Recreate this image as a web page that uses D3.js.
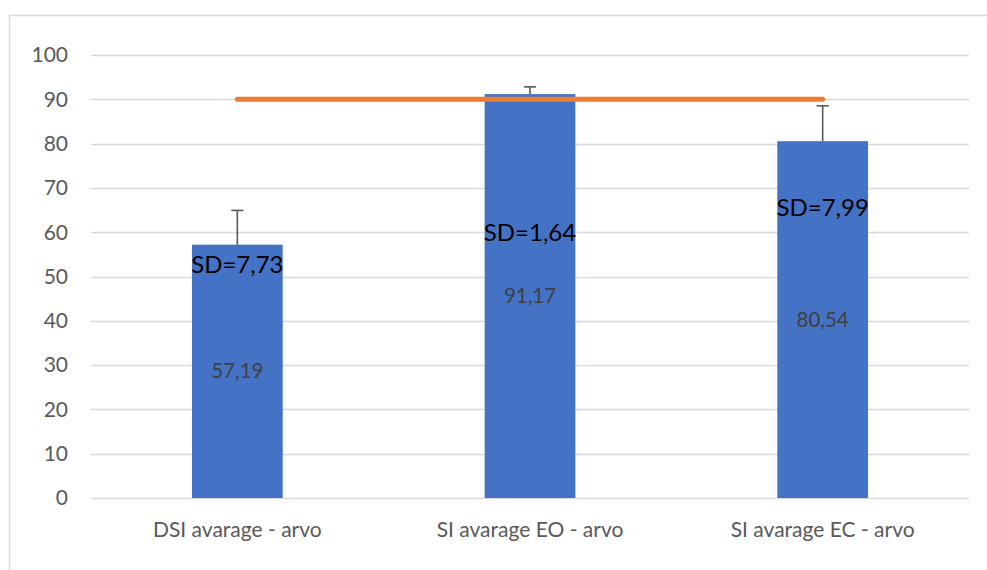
<!DOCTYPE html>
<html>
<head>
<meta charset="utf-8">
<script src="https://cdn.jsdelivr.net/npm/d3@7"></script>
<style>
  body { margin: 0; background: #fff; }
  svg { display: block; font-family: Lato, "Open Sans", sans-serif; }
</style>
</head>
<body>
<svg id="chart" width="987" height="570"></svg>
<script>
// data
const categories = ["DSI avarage - arvo", "SI avarage EO - arvo", "SI avarage EC - arvo"];
const means = [57.19, 91.17, 80.54];
const sds = [7.73, 1.64, 7.99];
const sdLabels = ["SD=7,73", "SD=1,64", "SD=7,99"];
const sdLabelAt = [52.6, 59.8, 65.5];   // where the SD text boxes sit, in axis units
const targetLine = [90, 90, 90];
const yTicks = [0, 10, 20, 30, 40, 50, 60, 70, 80, 90, 100];

const fmt = v => v.toFixed(2).replace(".", ",");

const svg = d3.select("#chart");

// outer chart frame (runs off the right and bottom of the picture)
svg.append("rect")
  .attr("x", 9.5).attr("y", 15.5)
  .attr("width", 1000).attr("height", 600)
  .attr("fill", "none")
  .attr("stroke", "#d9d9d9")
  .attr("stroke-width", 1.5);

const x = d3.scaleBand()
  .domain(categories)
  .range([91, 969])
  .paddingInner(0.69)
  .paddingOuter(0.345);

const y = d3.scaleLinear()
  .domain([0, 100])
  .range([498, 55]);

// gridlines
svg.append("g")
  .selectAll("line")
  .data(yTicks)
  .join("line")
  .attr("x1", 91).attr("x2", 969)
  .attr("y1", d => Math.round(y(d)) + 0.5)
  .attr("y2", d => Math.round(y(d)) + 0.5)
  .attr("stroke", "#d9d9d9")
  .attr("stroke-width", 1.3);

// y axis labels
svg.append("g")
  .selectAll("text")
  .data(yTicks)
  .join("text")
  .attr("x", 68)
  .attr("y", d => y(d))
  .attr("dy", "0.35em")
  .attr("text-anchor", "end")
  .attr("fill", "#595959")
  .style("font-size", "21px")
  .text(d => d);

// bars
svg.append("g")
  .selectAll("rect")
  .data(means)
  .join("rect")
  .attr("x", (d, i) => x(categories[i]))
  .attr("y", d => y(d))
  .attr("width", x.bandwidth())
  .attr("height", d => y(0) - y(d))
  .attr("fill", "#4472c4");

// error bars (plus side only)
const err = svg.append("g")
  .attr("stroke", "#595959")
  .attr("stroke-width", 1.6);
means.forEach((m, i) => {
  const cx = x(categories[i]) + x.bandwidth() / 2;
  err.append("line")
    .attr("x1", cx).attr("x2", cx)
    .attr("y1", y(m)).attr("y2", y(m + sds[i]));
  err.append("line")
    .attr("x1", cx - 6).attr("x2", cx + 6)
    .attr("y1", y(m + sds[i])).attr("y2", y(m + sds[i]));
});

// orange target line
const line = d3.line()
  .x((d, i) => x(categories[i]) + x.bandwidth() / 2)
  .y(d => y(d));
svg.append("path")
  .datum(targetLine)
  .attr("d", line)
  .attr("fill", "none")
  .attr("stroke", "#ed7d31")
  .attr("stroke-width", 5)
  .attr("stroke-linecap", "round");

// value labels, centred in the bars
svg.append("g")
  .selectAll("text")
  .data(means)
  .join("text")
  .attr("x", (d, i) => x(categories[i]) + x.bandwidth() / 2)
  .attr("y", d => y(d / 2))
  .attr("dy", "0.35em")
  .attr("text-anchor", "middle")
  .attr("fill", "#404040")
  .style("font-size", "20.5px")
  .text(d => fmt(d));

// SD text boxes
svg.append("g")
  .selectAll("text")
  .data(sdLabels)
  .join("text")
  .attr("x", (d, i) => x(categories[i]) + x.bandwidth() / 2)
  .attr("y", (d, i) => y(sdLabelAt[i]))
  .attr("dy", "0.35em")
  .attr("text-anchor", "middle")
  .attr("fill", "#000")
  .style("font-size", "24px")
  .text(d => d);

// category labels
svg.append("g")
  .selectAll("text")
  .data(categories)
  .join("text")
  .attr("x", d => x(d) + x.bandwidth() / 2)
  .attr("y", 530)
  .attr("dy", "0.35em")
  .attr("text-anchor", "middle")
  .attr("fill", "#595959")
  .style("font-size", "21px")
  .text(d => d);
</script>
</body>
</html>
